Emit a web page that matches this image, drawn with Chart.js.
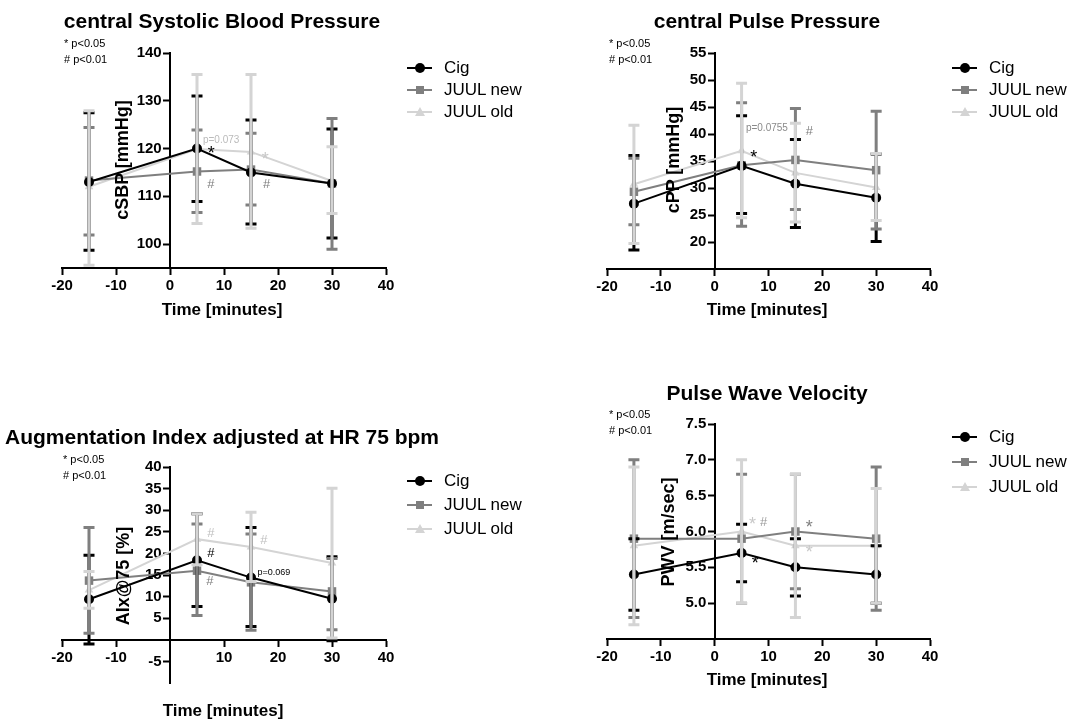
<!DOCTYPE html>
<html>
<head>
<meta charset="utf-8">
<script src="https://cdn.jsdelivr.net/npm/chart.js@4"></script>
<style>
body { margin:0; width:1070px; height:719px; background:#fff; position:relative; overflow:hidden;
       font-family:"Liberation Sans", Arial, sans-serif; color:#000; }
canvas { position:absolute; }
.txt { position:absolute; white-space:nowrap; transform:translate(-50%,-50%); z-index:2; }
.title { font-size:21px; font-weight:bold; }
.axt { font-size:17px; font-weight:bold; }
.ytitle { font-size:18px; font-weight:bold; transform:translate(-50%,-50%) rotate(-90deg); }
.sig { position:absolute; font-size:11px; line-height:16px; white-space:nowrap; z-index:2; }
.leg { position:absolute; font-size:17px; z-index:2; }
.leg .row { position:relative; height:22px; line-height:22px; }
.leg .ln { position:absolute; left:0; top:10px; width:25px; height:2px; }
.leg .mk { position:absolute; }
.leg .lab { position:absolute; left:37px; top:0; white-space:nowrap; }
</style>
</head>
<body>
<canvas id="cSBP" width="530" height="340" style="left:0;top:0"></canvas>
<canvas id="cPP" width="540" height="340" style="left:530px;top:0"></canvas>
<canvas id="cAIx" width="530" height="359" style="left:0;top:360px"></canvas>
<canvas id="cPWV" width="540" height="359" style="left:530px;top:360px"></canvas>

<div class="txt title" style="left:222px;top:21px">central Systolic Blood Pressure</div>
<div class="txt title" style="left:767px;top:21px">central Pulse Pressure</div>
<div class="txt title" style="left:222px;top:437px">Augmentation Index adjusted at HR 75 bpm</div>
<div class="txt title" style="left:767px;top:393px">Pulse Wave Velocity</div>

<div class="txt axt" style="left:222px;top:310px">Time [minutes]</div>
<div class="txt axt" style="left:767px;top:310px">Time [minutes]</div>
<div class="txt axt" style="left:223px;top:711px">Time [minutes]</div>
<div class="txt axt" style="left:767px;top:680px">Time [minutes]</div>

<div class="txt ytitle" style="left:122px;top:160px">cSBP [mmHg]</div>
<div class="txt ytitle" style="left:673px;top:160px">cPP [mmHg]</div>
<div class="txt ytitle" style="left:123px;top:576px">AIx@75 [%]</div>
<div class="txt ytitle" style="left:668px;top:532px">PWV [m/sec]</div>

<div class="sig" style="left:64px;top:35px">* p&lt;0.05<br># p&lt;0.01</div>
<div class="sig" style="left:609px;top:35px">* p&lt;0.05<br># p&lt;0.01</div>
<div class="sig" style="left:63px;top:451px">* p&lt;0.05<br># p&lt;0.01</div>
<div class="sig" style="left:609px;top:406px">* p&lt;0.05<br># p&lt;0.01</div>

<div class="leg" id="leg1" style="left:407px;top:57px"></div>
<div class="leg" id="leg2" style="left:952px;top:57px"></div>
<div class="leg" id="leg3" style="left:407px;top:470px"></div>
<div class="leg" id="leg4" style="left:952px;top:426px"></div>

<script>
var times = [-15, 5, 15, 30];
var xTicks = [-20, -10, 0, 10, 20, 30, 40];
var xTicksAix = [-20, -10, 10, 20, 30, 40];
var seriesNames = ['Cig', 'JUUL new', 'JUUL old'];
var seriesColors = ['#000000', '#7f7f7f', '#d4d4d4'];
var seriesMarkers = ['circle', 'rect', 'triangle'];

// central Systolic Blood Pressure: mean, top and bottom of error bar
var sbpCig = [113, 120, 115, 112.7];
var sbpCigHi = [127.5, 131, 126, 124.1];
var sbpCigLo = [98.7, 108.9, 104.2, 101.3];
var sbpNew = [113.3, 115.2, 115.6, 112.7];
var sbpNewHi = [124.4, 123.9, 123.2, 126.3];
var sbpNewLo = [101.9, 106.6, 108.2, 98.9];
var sbpOld = [112, 119.9, 119.3, 113.2];
var sbpOldHi = [127.9, 135.5, 135.5, 120.4];
var sbpOldLo = [95.6, 104.3, 103.3, 106.4];
var sbpTicks = [100, 110, 120, 130, 140];

// central Pulse Pressure
var cppCig = [27.1, 34.1, 30.8, 28.2];
var cppCigHi = [36.0, 43.4, 39.0, 36.3];
var cppCigLo = [18.5, 25.3, 22.7, 20.1];
var cppNew = [29.3, 34.2, 35.2, 33.3];
var cppNewHi = [35.5, 45.8, 44.7, 44.2];
var cppNewLo = [23.2, 22.9, 26.0, 22.4];
var cppOld = [30.7, 36.9, 32.8, 30.1];
var cppOldHi = [41.6, 49.4, 42.0, 36.4];
var cppOldLo = [19.7, 24.5, 23.7, 24.0];
var cppTicks = [20, 25, 30, 35, 40, 45, 50, 55];

// AIx@75
var aixCig = [9.4, 18.4, 14.4, 9.5];
var aixCigHi = [19.6, 29.2, 26.0, 19.2];
var aixCigLo = [-1.0, 7.7, 3.1, -0.2];
var aixNew = [13.7, 16.0, 13.3, 11.2];
var aixNewHi = [26.0, 26.8, 24.5, 18.8];
var aixNewLo = [1.5, 5.6, 2.2, 2.3];
var aixOld = [11.5, 23.3, 21.5, 17.8];
var aixOldHi = [15.8, 29.2, 29.5, 35.1];
var aixOldLo = [7.3, 17.4, 13.5, 0.4];
var aixTicks = [-5, 5, 10, 15, 20, 25, 30, 35, 40];

// Pulse Wave Velocity
var pwvCig = [5.4, 5.7, 5.5, 5.4];
var pwvCigHi = [5.9, 6.1, 5.9, 5.8];
var pwvCigLo = [4.9, 5.3, 5.1, 5.0];
var pwvNew = [5.9, 5.9, 6.0, 5.9];
var pwvNewHi = [7.0, 6.8, 6.8, 6.9];
var pwvNewLo = [4.8, 5.0, 5.2, 4.9];
var pwvOld = [5.8, 6.0, 5.8, 5.8];
var pwvOldHi = [6.9, 7.0, 6.8, 6.6];
var pwvOldLo = [4.7, 5.0, 4.8, 5.0];
var pwvTicks = [5.0, 5.5, 6.0, 6.5, 7.0, 7.5];

// significance notes, in data units
var sbpNotes = [
    {x: 6.1, y: 121.8, text: 'p=0.073', color: '#bbbbbb', size: 10},
    {x: 7.0, y: 119.3, text: '*', color: '#000', size: 18},
    {x: 17.0, y: 118.0, text: '*', color: '#c8c8c8', size: 18},
    {x: 6.9, y: 112.4, text: '#', color: '#7f7f7f', size: 13},
    {x: 17.2, y: 112.4, text: '#', color: '#7f7f7f', size: 13}
];
var cppNotes = [
    {x: 5.8, y: 41.1, text: 'p=0.0755', color: '#8a8a8a', size: 10},
    {x: 6.6, y: 35.8, text: '*', color: '#000', size: 18},
    {x: 16.9, y: 40.4, text: '#', color: '#7f7f7f', size: 13}
];
var aixNotes = [
    {x: 6.9, y: 24.6, text: '#', color: '#c0c0c0', size: 13},
    {x: 6.9, y: 20.0, text: '#', color: '#000', size: 13},
    {x: 6.7, y: 13.6, text: '#', color: '#7f7f7f', size: 13},
    {x: 16.7, y: 23.1, text: '#', color: '#c0c0c0', size: 13},
    {x: 16.2, y: 15.6, text: 'p=0.069', color: '#000', size: 9}
];
var pwvNotes = [
    {x: 6.4, y: 6.11, text: '*', color: '#c8c8c8', size: 18},
    {x: 8.4, y: 6.12, text: '#', color: '#9a9a9a', size: 13},
    {x: 16.9, y: 6.07, text: '*', color: '#7f7f7f', size: 18},
    {x: 16.9, y: 5.72, text: '*', color: '#c8c8c8', size: 18},
    {x: 6.9, y: 5.57, text: '*', color: '#000', size: 18}
];

var FONT = '"Liberation Sans", Arial, sans-serif';

var errorBars = {
    id: 'errorBars',
    afterDatasetsDraw: function(chart){
        var ctx = chart.ctx;
        var xs = chart.scales.x;
        var ys = chart.scales.y;
        chart.data.datasets.forEach(function(ds){
            ctx.save();
            ctx.strokeStyle = ds.borderColor;
            ctx.lineWidth = 3;
            ds.data.forEach(function(p, i){
                var x = xs.getPixelForValue(p.x);
                var top = ys.getPixelForValue(ds.hi[i]);
                var bot = ys.getPixelForValue(ds.lo[i]);
                ctx.beginPath();
                ctx.moveTo(x, top); ctx.lineTo(x, bot);
                ctx.moveTo(x - 5.5, top); ctx.lineTo(x + 5.5, top);
                ctx.moveTo(x - 5.5, bot); ctx.lineTo(x + 5.5, bot);
                ctx.stroke();
            });
            ctx.restore();
        });
    }
};

function notesPlugin(notes){
    return {
        id: 'notes',
        afterDraw: function(chart){
            var ctx = chart.ctx;
            ctx.save();
            ctx.textBaseline = 'middle';
            ctx.textAlign = 'left';
            notes.forEach(function(n){
                ctx.font = n.size + 'px ' + FONT;
                ctx.fillStyle = n.color;
                // the asterisk glyph sits high in its box
                var dy = n.text == '*' ? n.size * 0.1 : 0;
                ctx.fillText(n.text, chart.scales.x.getPixelForValue(n.x), chart.scales.y.getPixelForValue(n.y) + dy);
            });
            ctx.restore();
        }
    };
}

function makeDataset(i, values, hi, lo){
    return {
        label: seriesNames[i],
        data: times.map(function(t, k){ return {x: t, y: values[k]}; }),
        hi: hi,
        lo: lo,
        borderColor: seriesColors[i],
        backgroundColor: seriesColors[i],
        borderWidth: 2,
        pointStyle: seriesMarkers[i],
        pointRadius: seriesMarkers[i] == 'rect' ? 6 : 5,
        pointBorderWidth: 0,
        tension: 0
    };
}

function makeChart(id, datasets, notes, yMin, yMax, yTicks, xCross, xTickList, pad, decimals){
    var tickFont = {family: FONT, size: 15, weight: 'bold'};
    return new Chart(document.getElementById(id), {
        type: 'line',
        data: {datasets: datasets},
        options: {
            responsive: false,
            animation: false,
            devicePixelRatio: 1,
            layout: {padding: pad},
            plugins: {legend: {display: false}, tooltip: {enabled: false}},
            scales: {
                x: {
                    type: 'linear', min: -20, max: 40,
                    position: {y: xCross},
                    afterBuildTicks: function(s){ s.ticks = xTickList.map(function(v){ return {value: v}; }); },
                    ticks: {color: '#000', font: tickFont, padding: 3, autoSkip: false, maxRotation: 0},
                    grid: {drawOnChartArea: false, tickLength: 6, tickWidth: 2, tickColor: '#000'},
                    border: {color: '#000', width: 2}
                },
                y: {
                    type: 'linear', min: yMin, max: yMax,
                    position: {x: 0},
                    afterBuildTicks: function(s){ s.ticks = yTicks.map(function(v){ return {value: v}; }); },
                    // labels of a crossing axis sit on the axis line, so pad them with spaces
                    ticks: {color: '#000', font: tickFont, autoSkip: false,
                        callback: function(v){ return (decimals ? v.toFixed(decimals) : v) + '\u00a0\u00a0'; }},
                    grid: {drawOnChartArea: false, tickLength: 6, tickWidth: 2, tickColor: '#000'},
                    border: {color: '#000', width: 2}
                }
            }
        },
        plugins: [errorBars, notesPlugin(notes)]
    });
}

function makeLegend(id, rowHeight){
    var box = document.getElementById(id);
    seriesNames.forEach(function(name, i){
        var row = document.createElement('div');
        row.className = 'row';
        row.style.height = rowHeight + 'px';
        var ln = document.createElement('div');
        ln.className = 'ln';
        ln.style.background = seriesColors[i];
        row.appendChild(ln);
        var mk = document.createElement('div');
        mk.className = 'mk';
        if (seriesMarkers[i] == 'circle') {
            mk.style.cssText = 'left:8px;top:6px;width:10px;height:10px;border-radius:50%;background:' + seriesColors[i];
        } else if (seriesMarkers[i] == 'rect') {
            mk.style.cssText = 'left:9px;top:7px;width:8px;height:8px;background:' + seriesColors[i];
        } else {
            mk.style.cssText = 'left:8px;top:6px;width:0;height:0;border-left:5px solid transparent;border-right:5px solid transparent;border-bottom:9px solid ' + seriesColors[i];
        }
        row.appendChild(mk);
        var lab = document.createElement('div');
        lab.className = 'lab';
        lab.textContent = name;
        row.appendChild(lab);
        box.appendChild(row);
    });
}

makeChart('cSBP', [
    makeDataset(0, sbpCig, sbpCigHi, sbpCigLo),
    makeDataset(1, sbpNew, sbpNewHi, sbpNewLo),
    makeDataset(2, sbpOld, sbpOldHi, sbpOldLo)
], sbpNotes, 95, 140, sbpTicks, 95, xTicks, {left: 62, right: 144, top: 53, bottom: 72}, 0);

makeChart('cPP', [
    makeDataset(0, cppCig, cppCigHi, cppCigLo),
    makeDataset(1, cppNew, cppNewHi, cppNewLo),
    makeDataset(2, cppOld, cppOldHi, cppOldLo)
], cppNotes, 15, 55, cppTicks, 15, xTicks, {left: 77, right: 140, top: 53, bottom: 71}, 0);

makeChart('cAIx', [
    makeDataset(0, aixCig, aixCigHi, aixCigLo),
    makeDataset(1, aixNew, aixNewHi, aixNewLo),
    makeDataset(2, aixOld, aixOldHi, aixOldLo)
], aixNotes, -10, 40, aixTicks, 0, xTicksAix, {left: 62, right: 144, top: 107, bottom: 36}, 0);

makeChart('cPWV', [
    makeDataset(0, pwvCig, pwvCigHi, pwvCigLo),
    makeDataset(1, pwvNew, pwvNewHi, pwvNewLo),
    makeDataset(2, pwvOld, pwvOldHi, pwvOldLo)
], pwvNotes, 4.5, 7.5, pwvTicks, 4.5, xTicks, {left: 77, right: 140, top: 64, bottom: 80}, 1);

makeLegend('leg1', 22);
makeLegend('leg2', 22);
makeLegend('leg3', 24);
makeLegend('leg4', 25);
</script>
</body>
</html>
